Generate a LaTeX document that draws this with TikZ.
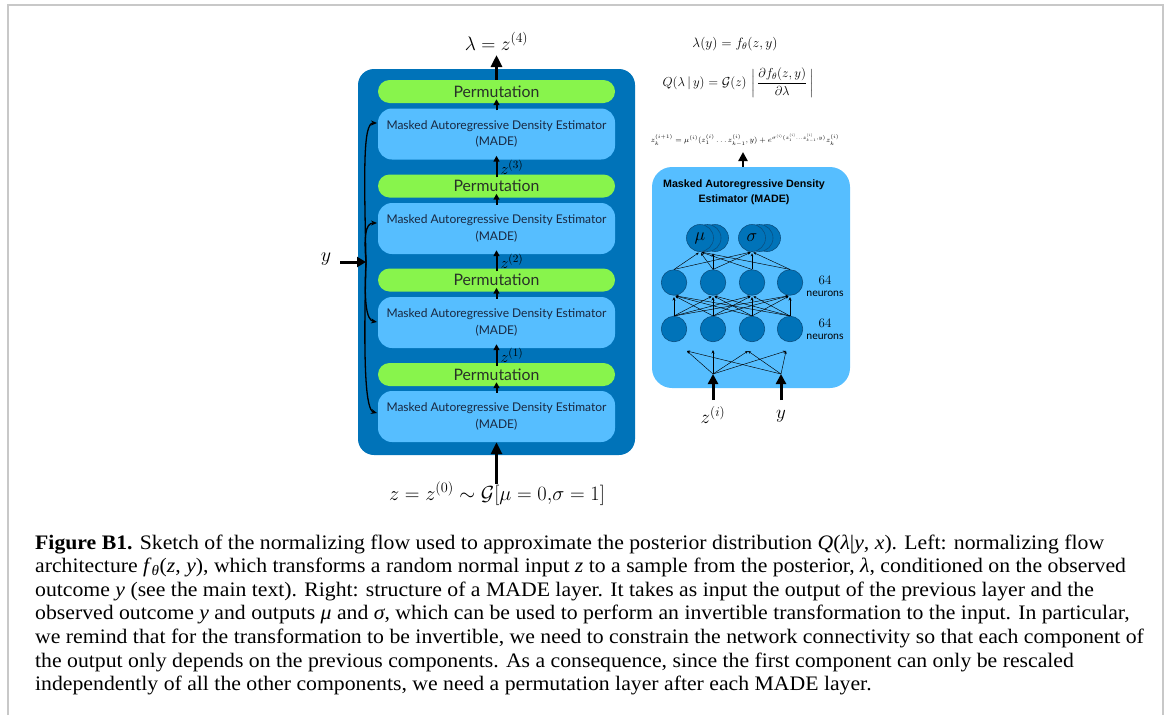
\RequirePackage{fix-cm}
\documentclass[tikz,border=0pt]{standalone}
\usepackage{amsmath}
\usepackage[no-math]{fontspec}
\usetikzlibrary{arrows.meta,calc}
\newfontfamily\latof{Lato}
\newfontfamily\arialf{Liberation Sans}
\newfontfamily\capf[FakeStretch=1.055]{Liberation Serif}
\definecolor{darkblue}{RGB}{0,115,185}
\definecolor{lightblue}{RGB}{86,190,255}
\definecolor{permgreen}{RGB}{136,244,76}
\definecolor{framegray}{RGB}{200,200,200}
\definecolor{ndark}{RGB}{10,80,130}
\definecolor{madetext}{RGB}{25,40,65}
\definecolor{permtext}{RGB}{40,50,40}
\begin{document}
\begin{tikzpicture}[x=1pt,y=-1pt,
  flowbox/.style={fill=darkblue, rounded corners=16pt, minimum width=277pt, minimum height=386pt, inner sep=0pt},
  permbox/.style={fill=permgreen, rounded corners=11.5pt, minimum width=237pt, minimum height=23pt, inner sep=0pt, font=\latof\fontsize{15.8}{17}\selectfont, text=permtext},
  madebox/.style={fill=lightblue, rounded corners=14pt, minimum width=237pt, minimum height=51pt, inner sep=0pt, align=center, font=\latof\fontsize{12}{16.5}\selectfont, text=madetext},
  thickarrow/.style={line width=3.2pt, -{Triangle[length=12pt,width=11pt]}},
  midarrow/.style={line width=2pt, -{Triangle[length=6pt,width=6pt]}},
  curvearrow/.style={line width=1.3pt, -{Stealth[length=6pt,width=5pt]}},
  thinarrow/.style={line width=0.45pt, -{Stealth[length=3pt,width=2.5pt]}},
  vertarrow/.style={line width=0.9pt, -{Stealth[length=3.5pt,width=3pt]}},
  neuron/.style={circle, fill=darkblue, draw=ndark, line width=0.6pt, minimum size=25.5pt, inner sep=0pt},
  outneuron/.style={circle, fill=darkblue, draw=ndark, line width=0.6pt, minimum size=27pt, inner sep=0pt, font=\fontsize{18}{20}\selectfont},
  mathlab/.style={font=\fontsize{20}{22}\selectfont, inner sep=0pt},
  zklab/.style={anchor=west, xshift=3pt, inner sep=0pt, font=\fontsize{16}{18}\selectfont},
  neurlab/.style={align=center, inner sep=0pt, font=\fontsize{13}{13}\selectfont},
  capline/.style={anchor=base west, inner sep=0pt, font=\capf\fontsize{20.6}{23.6}\selectfont}
]
\useasboundingbox (0,0) rectangle (1167,715);
% frame
\draw[framegray, line width=2pt] (7.5,715) -- (7.5,5) -- (1163,5) -- (1163,715);

% ---------- left: normalizing flow ----------
\node[flowbox] (flow) at (496.5,262) {};
\node[permbox] (perm1) at (496.5,91.5) {Permutation};
\node[madebox] (made1) at (496.5,134) {Masked Autoregressive Density Estimator\\(MADE)};
\node[permbox] (perm2) at (496.5,186) {Permutation};
\node[madebox] (made2) at (496.5,228.5) {Masked Autoregressive Density Estimator\\(MADE)};
\node[permbox] (perm3) at (496.5,280) {Permutation};
\node[madebox] (made3) at (496.5,322.5) {Masked Autoregressive Density Estimator\\(MADE)};
\node[permbox] (perm4) at (496.5,374.5) {Permutation};
\node[madebox] (made4) at (496.5,416.5) {Masked Autoregressive Density Estimator\\(MADE)};

% output
\coordinate (outtop) at (496.5,55);
\node[mathlab, anchor=base, font=\fontsize{19.5}{21}\selectfont] (lam) at (496.5,50) {$\lambda = z^{(4)}$};
\draw[thickarrow, line width=3pt] (perm1.north) -- (outtop);

% inner arrows
\draw[midarrow, shorten <=-2pt, shorten >=-4pt] (made1.north) -- (perm1.south);
\draw[midarrow, shorten <=-2pt, shorten >=-4pt] (made2.north) -- (perm2.south);
\draw[midarrow, shorten <=-2pt, shorten >=-4pt] (made3.north) -- (perm3.south);
\draw[midarrow, shorten <=-2pt, shorten >=-4pt] (made4.north) -- (perm4.south);
\draw[midarrow, shorten <=-3pt, shorten >=-4pt] (perm2.north) -- (made1.south)
  node[pos=0.5, zklab] (z3) {$z^{(3)}$};
\draw[midarrow, shorten <=-3pt, shorten >=-4pt] (perm3.north) -- (made2.south)
  node[pos=0.5, zklab] (z2) {$z^{(2)}$};
\draw[midarrow, shorten <=-3pt, shorten >=-4pt] (perm4.north) -- (made3.south)
  node[pos=0.5, zklab] (z1) {$z^{(1)}$};

% input
\coordinate (zin) at (496.5,484);
\draw[thickarrow] (zin) -- (made4.south);
\node[mathlab, anchor=base, font=\fontsize{20.4}{22}\selectfont] (zlab) at (497,500) {$z = z^{(0)} \sim \mathcal{G}[\mu = 0{,}\sigma = 1]$};

% y input with brace
\node[mathlab] (ylab) at (326,259) {$y$};
\coordinate (J) at (366,262);
\coordinate (ys) at (340,262);
\draw[line width=3pt, -{Triangle[length=9pt,width=10pt]}] (ys) -- (J);
\coordinate (t1) at (377,123);
\coordinate (t2) at (377,223);
\coordinate (t3) at (377,322);
\coordinate (t4) at (377,413);
\draw[curvearrow] (J) .. controls (364,170) and (363,123) .. (t1);
\draw[curvearrow] (J) .. controls (364,238) and (365,223) .. (t2);
\draw[curvearrow] (J) .. controls (364,300) and (366,320) .. (t3);
\draw[curvearrow] (J) .. controls (363,370) and (366,410) .. (t4);

% ---------- right: equations ----------
\node[inner sep=0pt, font=\fontsize{13.6}{15}\selectfont] (eq1) at (735,44) {$\lambda(y) = f_\theta(z, y)$};
\node[inner sep=0pt, font=\fontsize{13}{15}\selectfont] (eq2) at (738,83) {$Q(\lambda\,|\,y) = \mathcal{G}(z)\,\left|\,\dfrac{\partial f_\theta(z,y)}{\partial\lambda}\,\right|$};
\node[inner sep=0pt, font=\fontsize{7.4}{8}\selectfont] (eq3) at (745,140) {$z_k^{(i+1)} = \mu^{(i)}(z_1^{(i)}\ldots z_{k-1}^{(i)},y) + e^{\sigma^{(i)}(z_1^{(i)}\ldots z_{k-1}^{(i)},y)}z_k^{(i)}$};

% ---------- right: MADE structure ----------
\node[fill=lightblue, rounded corners=20pt, minimum width=198pt, minimum height=221pt, inner sep=0pt] (mbox) at (751,277.5) {};
\node[align=center, inner sep=0pt, font=\arialf\bfseries\fontsize{10.7}{15}\selectfont] (mtitle) at (744,192) {Masked Autoregressive Density\\Estimator (MADE)};
\coordinate (mtop) at (743,167);
\coordinate (mout) at (743,152);
\draw[line width=2.6pt, -{Triangle[length=9pt,width=9pt]}] (mtop) -- (mout);

% output neurons (stacked)
\node[outneuron] (mub2) at (715,238) {};
\node[outneuron] (mub1) at (707.5,238) {};
\node[outneuron] (mu) at (700,238) {$\mu$};
\node[outneuron] (sgb2) at (767,238) {};
\node[outneuron] (sgb1) at (759.5,238) {};
\node[outneuron] (sg) at (752,238) {$\sigma$};

% hidden layers
\foreach \i/\xx in {1/674,2/713,3/752,4/790} {
  \node[neuron] (u\i) at (\xx,282.5) {};
  \node[neuron] (l\i) at (\xx,329) {};
}
\node[neurlab] (n1) at (825,286) {64\\[-1pt]{\latof\fontsize{10.5}{11}\selectfont neurons}};
\node[neurlab] (n2) at (825,329) {64\\[-1pt]{\latof\fontsize{10.5}{11}\selectfont neurons}};

% lower -> upper
\foreach \i in {1,...,4} {
  \foreach \j in {1,...,4} {
    \ifnum\i=\j
      \draw[vertarrow, shorten >=1.5pt] (l\i.north) -- (u\j.south);
    \else
      \draw[thinarrow, shorten >=1.5pt] (l\i.north) -- (u\j.south);
    \fi
  }
}
% upper -> outputs
\foreach \i in {1,...,4} {
  \draw[thinarrow, shorten >=1.5pt] (u\i.north) -- (mu.south);
  \draw[thinarrow, shorten >=1.5pt] (u\i.north) -- (sg.south);
}
\draw[vertarrow, shorten >=1.5pt] (u2.north) -- (u2.north |- mu.south);

% inputs
\node[inner sep=0pt, font=\fontsize{19}{21}\selectfont] (zilab) at (713,415) {$z^{(i)}$};
\node[inner sep=0pt, font=\fontsize{19}{21}\selectfont] (yilab) at (781,416) {$y$};
\coordinate (zt) at (713,374);
\coordinate (yt) at (781,374);
\coordinate (zb) at (713,400);
\coordinate (yb) at (781,400);
\coordinate (b1) at (687,351);
\coordinate (b2) at (713,350);
\coordinate (b3) at (748,351);
\coordinate (b4) at (786,351);
\draw[line width=3pt, -{Triangle[length=10pt,width=10pt]}] (zb) -- (zt);
\draw[line width=3pt, -{Triangle[length=10pt,width=10pt]}] (yb) -- (yt);
\draw[thinarrow] (zt) -- (b1);
\draw[vertarrow] (zt) -- (b2);
\draw[thinarrow] (zt) -- (b3);
\draw[thinarrow] (zt) -- (b4);
\draw[thinarrow] (yt) -- (b1);
\draw[thinarrow] (yt) -- (b3);
\draw[thinarrow] (yt) -- (b4);

% ---------- caption ----------
\node[capline] (cap1) at (35,549) {\textbf{Figure B1.} Sketch of the normalizing flow used to approximate the posterior distribution \textit{Q}(\textit{λ}|\textit{y}, \textit{x}). Left: normalizing flow};
\node[capline] (cap2) at (35,572.6) {architecture \textit{f}\textsubscript{\textit{θ}}(\textit{z}, \textit{y}), which transforms a random normal input \textit{z} to a sample from the posterior, \textit{λ}, conditioned on the observed};
\node[capline] (cap3) at (35,596.2) {outcome \textit{y} (see the main text). Right: structure of a MADE layer. It takes as input the output of the previous layer and the};
\node[capline] (cap4) at (35,619.8) {observed outcome \textit{y} and outputs \textit{μ} and \textit{σ}, which can be used to perform an invertible transformation to the input. In particular,};
\node[capline] (cap5) at (35,643.4) {we remind that for the transformation to be invertible, we need to constrain the network connectivity so that each component of};
\node[capline] (cap6) at (35,667) {the output only depends on the previous components. As a consequence, since the first component can only be rescaled};
\node[capline] (cap7) at (35,690.6) {independently of all the other components, we need a permutation layer after each MADE layer.};
\end{tikzpicture}
\end{document}
